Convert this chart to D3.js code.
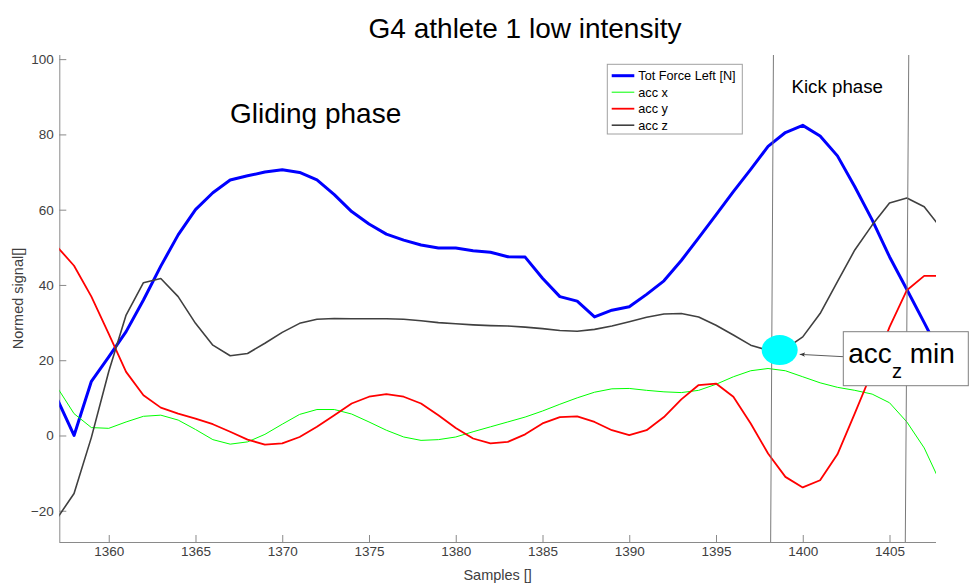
<!DOCTYPE html>
<html>
<head>
<meta charset="utf-8">
<script src="https://cdn.jsdelivr.net/npm/d3@7"></script>
<style>
  html, body { margin: 0; padding: 0; background: #fff; }
  svg { display: block; font-family: 'Liberation Sans', Arial, Helvetica, sans-serif; }
  .tick-label { font-size: 13.5px; fill: #404040; }
</style>
</head>
<body>
<svg id="chart" width="971" height="585"></svg>
<script>
'use strict';

/* ── Data ──────────────────────────────────────────────────── */
const samples = d3.range(1357, 1409);   // 1357 … 1408

const totForce = [10.0, 0, 14.4, 20.9, 27.6, 36.0, 45.0, 53.3, 60.0, 64.5,
  67.9, 69.0, 70.0, 70.6, 69.9, 67.9, 64.0, 59.5, 56.2, 53.5,
  51.9, 50.6, 49.8, 49.8, 49.1, 48.7, 47.5, 47.4, 41.8, 36.9,
  35.7, 31.5, 33.3, 34.2, 37.5, 41.1, 46.5, 52.5, 58.6, 64.8,
  70.7, 76.8, 80.5, 82.4, 79.6, 74.3, 66.1, 57.3, 47.5, 38.8,
  30.0, 21.0];

const accX = [13.0, 5.8, 2.1, 1.9, 3.6, 5.1, 5.4, 4.1, 1.6, -1.1,
  -2.3, -1.7, 0.3, 3.0, 5.6, 6.9, 6.9, 5.7, 3.6, 1.4,
  -0.4, -1.3, -1.1, -0.4, 1.0, 2.3, 3.6, 4.9, 6.5, 8.3,
  10.0, 11.5, 12.4, 12.5, 12.0, 11.6, 11.4, 12.0, 13.6, 15.6,
  17.2, 17.8, 17.2, 15.6, 14.0, 12.8, 12.0, 11.0, 8.7, 3.6,
  -3.3, -13.2];

const accY = [50.3, 45.1, 36.9, 27.0, 16.9, 10.7, 7.4, 5.8, 4.5, 3.0,
  1.0, -1.1, -2.4, -2.1, -0.4, 2.3, 5.4, 8.5, 10.3, 11.0,
  10.3, 8.5, 5.4, 2.0, -0.8, -2.1, -1.7, 0.3, 3.2, 4.9,
  5.1, 3.6, 1.4, 0.1, 1.4, 4.9, 9.6, 13.4, 13.8, 10.3,
  3.2, -4.8, -11.0, -13.8, -11.9, -5.0, 5.9, 17.0, 28.8, 38.6,
  42.4, 42.4];

const accZ = [-22.2, -15.4, -0.5, 17.0, 32.0, 40.6, 41.7, 36.9, 29.8, 24.0,
  21.2, 21.8, 24.5, 27.4, 29.8, 30.9, 31.1, 31.0, 31.0, 31.0,
  30.9, 30.5, 30.0, 29.7, 29.4, 29.2, 29.1, 28.8, 28.4, 27.9,
  27.7, 28.2, 29.1, 30.2, 31.4, 32.3, 32.4, 31.5, 29.3, 26.7,
  24.0, 22.6, 23.0, 26.2, 32.4, 40.9, 49.3, 55.9, 61.8, 63.1,
  60.8, 54.9];

const seriesNames  = ['Tot Force Left [N]', 'acc x', 'acc y', 'acc z'];
const seriesValues = [totForce, accX, accY, accZ];
const seriesColors = ['#0000ff', '#00ff00', '#ff0000', '#404040'];
const seriesWidths = [3, 1, 1.8, 1.6];

const xTicks = [1360, 1365, 1370, 1375, 1380, 1385, 1390, 1395, 1400, 1405];
const yTicks = [-20, 0, 20, 40, 60, 80, 100];

/* kick phase boundary lines: [x at top, x at bottom] */
const kickLines = [[1398.31, 1398.15], [1406.11, 1405.91]];
/* acc z minimum marker */
const accZMin = [1398.67, 22.7];

/* ── Layout ────────────────────────────────────────────────── */
const PAD_L = 59.3, PAD_R = 936, PAD_T = 55, PAD_B = 542;

const svg = d3.select('#chart');

const x = d3.scaleLinear().domain([1357.15, 1407.68]).range([PAD_L, PAD_R]);
const y = d3.scaleLinear().domain([-28.3, 101.1]).range([PAD_B, PAD_T]);

svg.append('defs').append('clipPath').attr('id', 'plot-clip')
  .append('rect')
  .attr('x', PAD_L).attr('y', PAD_T)
  .attr('width', PAD_R - PAD_L).attr('height', PAD_B - PAD_T);

svg.select('defs').append('marker')
  .attr('id', 'arrow-head')
  .attr('viewBox', '0 0 10 10')
  .attr('refX', 10).attr('refY', 5)
  .attr('markerWidth', 7).attr('markerHeight', 7)
  .attr('orient', 'auto-start-reverse')
  .append('path')
  .attr('d', 'M0,1 L10,5 L0,9 L3,5 Z')
  .attr('fill', '#333');

/* ── Axes (ticks inward, no box) ── */
const xAxis = d3.axisBottom(x).tickValues(xTicks).tickSize(-7).tickPadding(4.5).tickFormat(d3.format('d'));
const yAxis = d3.axisLeft(y).tickValues(yTicks).tickSize(-7).tickPadding(5.5);

const xg = svg.append('g').attr('transform', `translate(0,${PAD_B})`).call(xAxis);
const yg = svg.append('g').attr('transform', `translate(${PAD_L},0)`).call(yAxis);

[xg, yg].forEach(g => {
  g.select('.domain').attr('stroke', '#8a8a8a').attr('stroke-width', 1);
  g.selectAll('.tick line').attr('stroke', '#8a8a8a');
  g.selectAll('.tick text').attr('class', 'tick-label').attr('font-size', null).attr('font-family', null);
});
// plain axis lines, no end caps
xg.select('.domain').attr('d', `M${PAD_L},0.5H${PAD_R}`);
yg.select('.domain').attr('d', `M0.5,${PAD_B}V${PAD_T}`);

/* ── Axis titles ── */
svg.append('text')
  .attr('x', (PAD_L + PAD_R) / 2).attr('y', 580)
  .attr('text-anchor', 'middle').attr('font-size', 14.5).attr('fill', '#404040')
  .text('Samples []');

svg.append('text')
  .attr('transform', `translate(23,${(PAD_T + PAD_B) / 2}) rotate(-90)`)
  .attr('text-anchor', 'middle').attr('font-size', 14.5).attr('fill', '#404040')
  .text('Normed signal[]');

svg.append('text')
  .attr('x', 525).attr('y', 38)
  .attr('text-anchor', 'middle').attr('font-size', 28).attr('fill', '#000')
  .text('G4 athlete 1 low intensity');

/* ── Series lines ── */
const plot = svg.append('g').attr('clip-path', 'url(#plot-clip)');
const line = d3.line().x((d, i) => x(samples[i])).y(d => y(d));

seriesValues.forEach((vals, si) => {
  plot.append('path')
    .datum(vals)
    .attr('d', line)
    .attr('fill', 'none')
    .attr('stroke', seriesColors[si])
    .attr('stroke-width', seriesWidths[si])
    .attr('stroke-linejoin', 'round');
});

/* ── Kick phase boundaries ── */
kickLines.forEach(([xt, xb]) => {
  svg.append('line')
    .attr('x1', x(xt)).attr('y1', PAD_T)
    .attr('x2', x(xb)).attr('y2', PAD_B)
    .attr('stroke', '#7a7a7a').attr('stroke-width', 1);
});

/* ── Phase labels ── */
svg.append('text')
  .attr('x', 230).attr('y', 123)
  .attr('font-size', 28).attr('fill', '#000')
  .text('Gliding phase');

svg.append('text')
  .attr('x', 791.5).attr('y', 93)
  .attr('font-size', 18.7).attr('fill', '#000')
  .text('Kick phase');

/* ── acc z min marker + callout ── */
const mx = x(accZMin[0]), my = y(accZMin[1]);
svg.append('ellipse')
  .attr('cx', mx).attr('cy', my).attr('rx', 18).attr('ry', 15)
  .attr('fill', '#00ffff');

svg.append('line')
  .attr('x1', 843.3).attr('y1', 356.7)
  .attr('x2', mx + 20).attr('y2', my + 4.3)
  .attr('stroke', '#333').attr('stroke-width', 0.8)
  .attr('marker-end', 'url(#arrow-head)');

svg.append('rect')
  .attr('x', 843.3).attr('y', 331.7).attr('width', 125).attr('height', 54)
  .attr('fill', '#fff').attr('stroke', '#7f7f7f').attr('stroke-width', 1);

const callout = svg.append('text')
  .attr('x', 848.3).attr('y', 363)
  .attr('font-size', 28).attr('fill', '#000');
callout.append('tspan').text('acc');
callout.append('tspan').attr('dy', 14.5).attr('font-size', 20).text('z');
callout.append('tspan').attr('dy', -14.5).text(' min');

/* ── Legend ── */
const lg = svg.append('g').attr('transform', 'translate(607.3,64.3)');
lg.append('rect')
  .attr('width', 135).attr('height', 69.7)
  .attr('fill', '#fff').attr('stroke', '#a0a0a0').attr('stroke-width', 1);

seriesNames.forEach((name, i) => {
  const ly = 11.4 + i * 16.5;
  lg.append('line')
    .attr('x1', 4.4).attr('x2', 27)
    .attr('y1', ly).attr('y2', ly)
    .attr('stroke', seriesColors[i])
    .attr('stroke-width', i === 0 ? 3 : seriesWidths[i]);
  lg.append('text')
    .attr('x', 31).attr('y', ly + 4.6)
    .attr('font-size', 12.7).attr('fill', '#000')
    .text(name);
});
</script>
</body>
</html>
